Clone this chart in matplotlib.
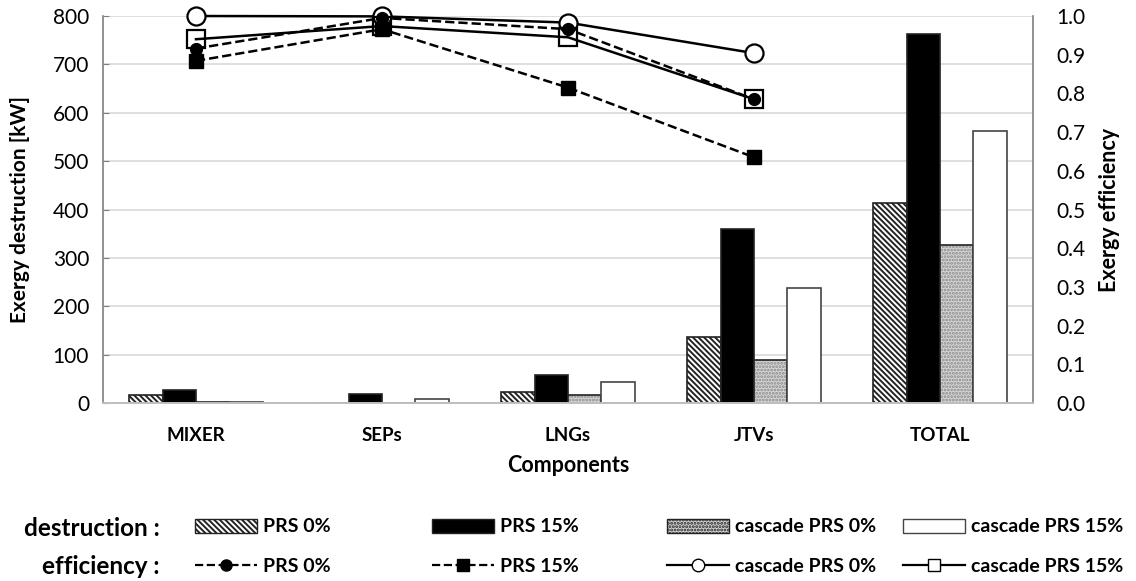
import numpy as np
import matplotlib
matplotlib.use("Agg")
import matplotlib.pyplot as plt
from matplotlib.patches import Patch
from matplotlib.lines import Line2D

plt.rcParams['font.family'] = ['Lato', 'DejaVu Sans']
plt.rcParams['hatch.linewidth'] = 1.4

components = ["MIXER", "SEPs", "LNGs", "JTVs", "TOTAL"]

# exergy destruction [kW]
destr_prs0 = [16, 0, 22, 136, 413]
destr_prs15 = [26, 19, 58, 360, 763]
destr_casc0 = [2, 0, 17, 88, 327]
destr_casc15 = [2, 8, 43, 238, 563]

# exergy efficiency (TOTAL has none)
eff_prs0 = [0.916, 0.995, 0.966, 0.785]
eff_prs15 = [0.884, 0.966, 0.815, 0.635]
eff_casc0 = [1.0, 0.999, 0.983, 0.904]
eff_casc15 = [0.94, 0.974, 0.945, 0.785]

W, H = 1136, 581
fig = plt.figure(figsize=(W / 100, H / 100), dpi=100)
ax = fig.add_axes([103 / W, 1 - 403 / H, 930 / W, 387 / H])
ax2 = ax.twinx()

x = np.arange(len(components))
w = 0.18
offs = np.array([-1.5, -0.5, 0.5, 1.5]) * w

ax.bar(x + offs[0], destr_prs0, w, facecolor='white', edgecolor='#222222',
       hatch='\\\\\\\\\\\\', linewidth=1.2, zorder=2)
ax.bar(x + offs[1], destr_prs15, w, facecolor='black', edgecolor='#222222',
       linewidth=1.2, zorder=2)
# stippled gray fill drawn first, outline on top
ax.bar(x + offs[2], destr_casc0, w, facecolor='#d6d6d6', edgecolor='#8a8a8a',
       hatch='.....', linewidth=0, zorder=2)
ax.bar(x + offs[2], destr_casc0, w, facecolor='none', edgecolor='#222222',
       linewidth=1.2, zorder=2)
ax.bar(x + offs[3], destr_casc15, w, facecolor='white', edgecolor='#444444',
       linewidth=1.2, zorder=2)

xe = x[:len(eff_prs0)]
ax2.plot(xe, eff_prs0, '--', color='black', lw=1.8, marker='o', ms=8.5,
         mfc='black', mec='black', zorder=5, clip_on=False)
ax2.plot(xe, eff_prs15, '--', color='black', lw=1.8, marker='s', ms=10,
         mfc='black', mec='black', zorder=5, clip_on=False)
ax2.plot(xe, eff_casc0, '-', color='black', lw=1.8, marker='o', ms=13,
         mfc='white', mec='black', mew=1.6, zorder=4, clip_on=False)
ax2.plot(xe, eff_casc15, '-', color='black', lw=1.8, marker='s', ms=13,
         mfc='none', mec='black', mew=1.6, zorder=4, clip_on=False)

ax.set_xlim(-0.5, len(components) - 0.5)
ax.set_ylim(0, 800)
ax.set_yticks(np.arange(0, 801, 100))
ax2.set_ylim(0, 1.0)
ax2.set_yticks(np.arange(0, 1.01, 0.1))
ax2.set_yticklabels([f"{v:.1f}" for v in np.arange(0, 1.01, 0.1)])

ax.grid(axis='y', color='#d9d9d9', lw=1.2, zorder=0)
ax.set_axisbelow(True)
ax.set_zorder(1)
ax2.set_zorder(2)
ax2.patch.set_visible(False)

for a in (ax, ax2):
    a.spines['top'].set_visible(False)
    a.spines['bottom'].set_color('#bfbfbf')
    a.spines['bottom'].set_linewidth(1.2)
ax.spines['right'].set_visible(False)
ax2.spines['left'].set_visible(False)
ax.spines['left'].set_color('#7f7f7f')
ax.spines['left'].set_linewidth(1.2)
ax2.spines['right'].set_color('#7f7f7f')
ax2.spines['right'].set_linewidth(1.2)

ax.set_xticks(x)
ax.set_xticklabels(components, fontsize=13.5, fontweight='bold')
ax.tick_params(axis='x', length=0, pad=17)
ax.tick_params(axis='y', labelsize=15, direction='in', length=4,
               color='#7f7f7f', pad=10)
ax2.tick_params(axis='y', labelsize=15, length=0, pad=17)

ax.set_xlabel("Components", fontsize=15.5, fontweight='bold')
ax.xaxis.set_label_coords(0.5, -0.135)
ax.set_ylabel("Exergy destruction [kW]", fontsize=15, fontweight='bold')
ax.yaxis.set_label_coords(-0.078, 0.5)
ax2.set_ylabel("Exergy efficiency", fontsize=15.5, fontweight='bold')
ax2.yaxis.set_label_coords(1.071, 0.5)

# legend rows
fig.text(160 / W, 1 - 528 / H, "destruction :", fontsize=17.5, fontweight='bold',
         ha='right', va='center')
fig.text(160 / W, 1 - 566 / H, "efficiency :", fontsize=17.5, fontweight='bold',
         ha='right', va='center')

labels = ["PRS 0%", "PRS 15%", "cascade PRS 0%", "cascade PRS 15%"]
bar_handles = [
    Patch(facecolor='white', edgecolor='#222222', hatch='\\\\\\\\\\\\'),
    Patch(facecolor='black', edgecolor='#222222'),
    Patch(facecolor='#d0d0d0', edgecolor='#222222', hatch='.....'),
    Patch(facecolor='white', edgecolor='#444444'),
]
line_handles = [
    Line2D([], [], ls='--', color='black', lw=1.6, marker='o', ms=8, mfc='black'),
    Line2D([], [], ls='--', color='black', lw=1.6, marker='s', ms=9, mfc='black'),
    Line2D([], [], ls='-', color='black', lw=1.6, marker='o', ms=9, mfc='white'),
    Line2D([], [], ls='-', color='black', lw=1.6, marker='s', ms=9, mfc='white'),
]
col_x = [195, 432, 667, 903]
for row_y, handles in ((527, bar_handles), (566, line_handles)):
    for cx, h, lab in zip(col_x, handles, labels):
        fig.legend(handles=[h], labels=[lab], loc='center left',
                   bbox_to_anchor=(cx / W, 1 - row_y / H),
                   frameon=False, handlelength=3.2, handleheight=0.7,
                   handletextpad=0.3, borderpad=0, borderaxespad=0,
                   prop={'size': 14, 'weight': 'bold'})

fig.savefig("out.png", dpi=100)
